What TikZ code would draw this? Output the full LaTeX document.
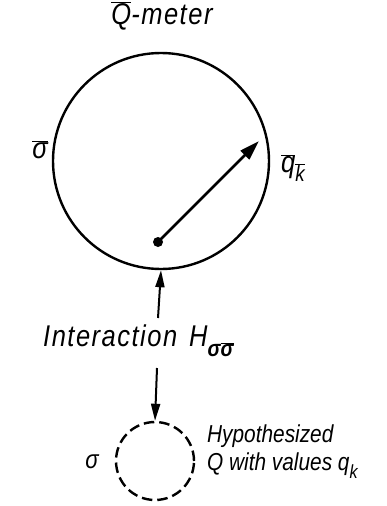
\documentclass[tikz,border=0pt]{standalone}
\usepackage{fontspec}
\setmainfont{Liberation Sans}[FakeStretch=0.85]
\usetikzlibrary{arrows.meta}
\newcommand\ovbar[1]{\ensuremath{\overline{\hbox{#1}}}}
\newcommand\subtxt[2][20]{\raisebox{-0.32em}{\fontsize{#1}{#1}\selectfont #2}}
\begin{document}
\begin{tikzpicture}[x=1pt,y=-1pt,
  lab/.style={font=\itshape\fontsize{30}{34}\selectfont, inner sep=0pt},
  spaced/.style={font=\itshape\fontsize{30}{34}\selectfont\addfontfeature{LetterSpace=5}, inner sep=0pt},
  smalllab/.style={font=\itshape\fontsize{24.5}{28}\selectfont, inner sep=0pt},
  needle/.style={line width=2.8pt, -{Triangle[length=20pt,width=12pt]}},
  arr/.style={line width=2pt, -{Triangle[length=17pt,width=9pt]}}]
\useasboundingbox (0,0) rectangle (386,506);
% meter
\node[circle, draw, line width=2.4pt, minimum size=216pt, inner sep=0pt] (meter) at (161,161) {};
\node[circle, fill, minimum size=10pt, inner sep=0pt] (dot) at (158,242) {};
\coordinate (tip) at (259,141);
\draw[needle] (dot.center) -- (tip);
\node[spaced] (mlabel) at (162,16) {\ovbar{Q}-meter};
\node[lab] (sbar) at (40,150) {\ovbar{σ}};
\node[lab] (qlab) at (293,168) {\ovbar{q}\subtxt[22]{\ovbar{k}}};
% interaction
\node[spaced, anchor=west] (inter) at (43,341) {Interaction\hspace{12pt}H\subtxt[23]{\bfseries σ\ovbar{σ}}};
\coordinate (upstart) at (158,318);
\coordinate (downstart) at (157,368);
\node[circle, draw, line width=2.4pt, dash pattern=on 10.5pt off 5pt, minimum size=78pt, inner sep=0pt] (sys) at (155,461) {};
\draw[arr] (upstart) -- (meter.south);
\draw[arr] (downstart) -- (sys.north);
\node[font=\itshape\fontsize{26}{28}\selectfont, inner sep=0pt] (sig) at (92,462) {σ};
\node[smalllab, anchor=west] (hyp1) at (207,436) {Hypothesized};
\node[smalllab, anchor=west] (hyp2) at (207,466) {Q with values q\subtxt[19]{k}};
\end{tikzpicture}
\end{document}
